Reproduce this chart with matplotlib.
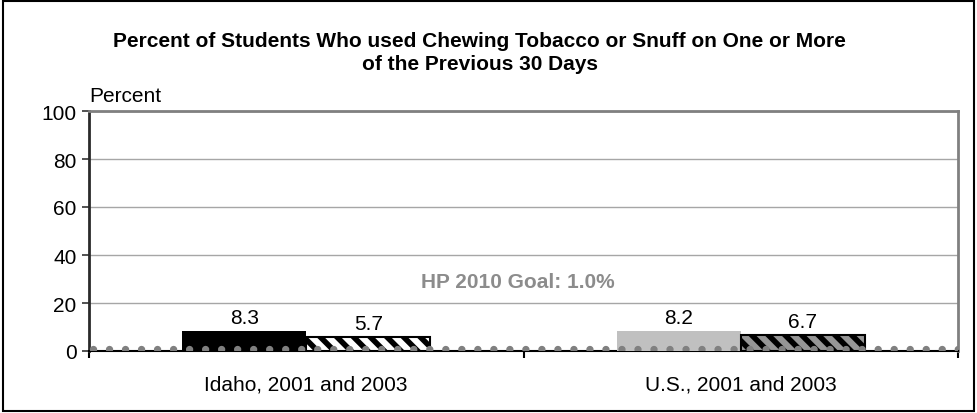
import numpy as np
import matplotlib
matplotlib.use("Agg")
import matplotlib.pyplot as plt
from matplotlib.patches import Rectangle

# data
categories = ["Idaho, 2001 and 2003", "U.S., 2001 and 2003"]
values_2001 = [8.3, 8.2]
values_2003 = [5.7, 6.7]
goal = 1.0
goal_label = "HP 2010 Goal: 1.0%"
yticks = [0, 20, 40, 60, 80, 100]

TITLE = ("Percent of Students Who used Chewing Tobacco or Snuff on One or More\n"
         "of the Previous 30 Days")

FS = 15

plt.rcParams.update({
    "font.family": ["Liberation Sans", "DejaVu Sans"],
    "font.size": FS,
    "hatch.linewidth": 4.0,
    "lines.scale_dashes": False,
})

fig = plt.figure(figsize=(9.77, 4.14), dpi=100)
ax = fig.add_axes([89 / 977, 62 / 414, 869 / 977, 240 / 414])

x = np.arange(len(categories))
w = 0.285

# 2001 bars: solid, Idaho black / U.S. light grey
face_2001 = ["#000000", "#c0c0c0"]
b1 = ax.bar(x - w / 2, values_2001, w, color=face_2001, linewidth=0, zorder=3)

# 2003 bars: hatched
face_2003 = ["#ffffff", "#969696"]
b2 = ax.bar(x + w / 2, values_2003, w, color=face_2003, edgecolor="black",
            linewidth=1.5, hatch="\\\\", zorder=3)

for bars, vals in ((b1, values_2001), (b2, values_2003)):
    for r, v in zip(bars, vals):
        ax.annotate(f"{v:.1f}", (r.get_x() + r.get_width() / 2, v),
                    xytext=(0, 3), textcoords="offset points",
                    ha="center", va="bottom", fontsize=FS, color="black")

# dotted goal line
ax.axhline(goal, color="#808080", linewidth=5.3,
           linestyle=(8.64, (0.01, 11.52)), dash_capstyle="round", zorder=5)
ax.text(0.494, 0.29, goal_label, transform=ax.transAxes, ha="center",
        va="center", fontsize=FS, fontweight="bold", color="#8c8c8c")

ax.set_xlim(-0.5, len(categories) - 0.5)
ax.set_ylim(0, 100)
ax.set_yticks(yticks)
ax.set_yticklabels([str(t) for t in yticks])
ax.set_xticks(x)
ax.set_xticklabels(categories)
ax.set_xticks(np.arange(len(categories) + 1) - 0.5, minor=True)
ax.tick_params(axis="x", which="major", length=0, pad=17, labelsize=FS)
ax.tick_params(axis="x", which="minor", length=5, width=1.5, direction="out",
               color="black")
ax.tick_params(axis="y", length=5, width=1.2, direction="out", pad=4,
               labelsize=FS, color="#333333")

ax.grid(axis="y", color="#a6a6a6", linewidth=1.0, zorder=0)
ax.set_axisbelow(True)
ax.spines["left"].set_color("#2a2a2a")
ax.spines["left"].set_linewidth(2.0)
ax.spines["bottom"].set_color("black")
ax.spines["bottom"].set_linewidth(1.5)
for s in ("top", "right"):
    ax.spines[s].set_color("#808080")
    ax.spines[s].set_linewidth(2.0)

ax.text(0.0, 1.025, "Percent", transform=ax.transAxes, ha="left", va="bottom",
        fontsize=FS)
fig.text(0.491, 0.872, TITLE, ha="center", va="center", fontsize=FS,
         fontweight="bold", linespacing=1.3)

# outer frame
fig.patches.append(Rectangle((0.003, 0.004), 0.994, 0.992, transform=fig.transFigure,
                             fill=False, edgecolor="black", linewidth=1.5))

fig.savefig("out.png", dpi=100)
